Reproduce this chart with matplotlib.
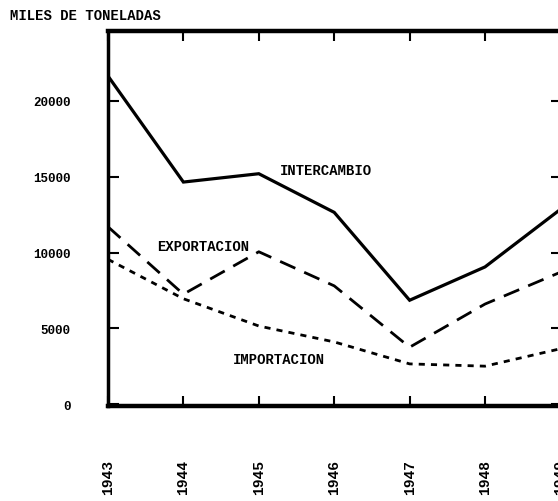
import numpy as np
import matplotlib.pyplot as plt

# comercio exterior, miles de toneladas
years = [1943, 1944, 1945, 1946, 1947, 1948, 1949]
intercambio = [21650, 14650, 15200, 12650, 6850, 9050, 12850]
exportacion = [11700, 7250, 10050, 7800, 3750, 6600, 8700]
importacion = [9550, 6950, 5150, 4100, 2650, 2500, 3650]

ytick_vals = [0, 5000, 10000, 15000, 20000]
ytick_labels = ['0', '5000', '10000', '15000', '20000']

plt.rcParams['font.family'] = 'Liberation Mono'
plt.rcParams['font.weight'] = 'bold'

fig = plt.figure(figsize=(5.58, 5.02), dpi=100)
ax = fig.add_axes([0.1935, 0.1892, 0.8136, 0.7471])

ax.plot(years, intercambio, color='black', lw=2.3, solid_joinstyle='miter')
ax.plot(years, exportacion, color='black', lw=2.0, dashes=(6, 3.5))
ax.plot(years, importacion, color='black', lw=2.0, dashes=(2.2, 2.2))

ax.text(1945.28, 15450, 'INTERCAMBIO', fontsize=10, ha='left', va='center')
ax.text(1943.65, 10450, 'EXPORTACION', fontsize=10, ha='left', va='center')
ax.text(1944.65, 3000, 'IMPORTACION', fontsize=10, ha='left', va='center')

ax.set_xlim(1943, 1949.02)
ax.set_ylim(-130, 24620)

ax.set_yticks(ytick_vals)
ax.set_yticklabels(ytick_labels)
ax.set_xticks(years)
ax.set_xticklabels([str(y) for y in years], rotation=90, va='top')

ax.tick_params(axis='y', direction='in', length=8, width=1.5, pad=27,
               labelsize=9, right=True)
ax.tick_params(axis='x', direction='in', length=7, width=1.5, pad=38,
               labelsize=10.5, top=True)

for side in ['top', 'bottom']:
    ax.spines[side].set_linewidth(3.2)
ax.spines['left'].set_linewidth(2.5)
ax.spines['right'].set_linewidth(2.5)

fig.text(0.018, 0.968, 'MILES DE TONELADAS', fontsize=10, ha='left', va='center')

plt.savefig('out.png', dpi=100)
